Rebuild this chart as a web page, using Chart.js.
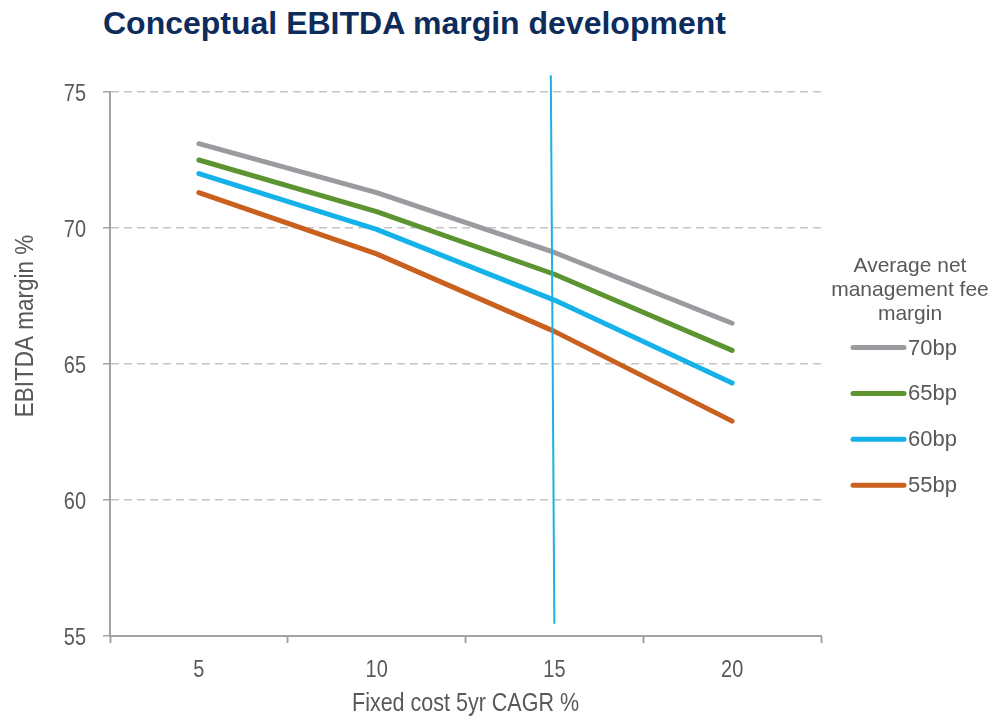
<!DOCTYPE html>
<html>
<head>
<meta charset="utf-8">
<script src="https://cdn.jsdelivr.net/npm/chart.js@4/dist/chart.umd.min.js"></script>
<style>
  html, body { margin: 0; padding: 0; background: #ffffff; }
  #wrap { position: relative; width: 992px; height: 721px; }
  #title {
    position: absolute; left: 103px; top: 5px;
    font: bold 32px "Liberation Sans", Arial, sans-serif;
    color: #0d2c5c; white-space: nowrap;
  }
  canvas { position: absolute; left: 0; top: 0; }
</style>
</head>
<body>
<div id="wrap">
  <div id="title">Conceptual EBITDA margin development</div>
  <canvas id="chart" width="992" height="721"></canvas>
</div>
<script>
// Fixed cost growth scenarios (x) and EBITDA margin per fee level (y, %)
const categories = ['5', '10', '15', '20'];
const seriesNames = ['70bp', '65bp', '60bp', '55bp'];
const fee70 = [73.1, 71.3, 69.1, 66.5];
const fee65 = [72.5, 70.6, 68.3, 65.5];
const fee60 = [72.0, 69.95, 67.35, 64.3];
const fee55 = [71.3, 69.05, 66.2, 62.9];
const yTicks = [55, 60, 65, 70, 75];

// Reference marker drawn at the 15% CAGR position
const markerX = [14.9, 15.0];
const markerY = [75.62, 55.45];

const legendTitle = ['Average net', 'management fee', 'margin'];
const xTitle = 'Fixed cost 5yr CAGR %';
const yTitle = 'EBITDA margin %';

const colors = ['#9b9b9f', '#5b9431', '#14b2e8', '#c9601e'];
const textGrey = '#595959';
const regular = "'Liberation Sans', Arial, sans-serif";
const condense = 0.83;   // horizontal squeeze for the axis lettering

const seriesValues = [fee70, fee65, fee60, fee55];

const lineDatasets = seriesValues.map((vals, i) => ({
  label: seriesNames[i],
  data: vals,
  borderColor: colors[i],
  backgroundColor: colors[i],
  borderWidth: 5,
  borderCapStyle: 'round',
  borderJoinStyle: 'round',
  pointRadius: 0,
  tension: 0,
  xAxisID: 'x',
  order: 1
}));

const markerDataset = {
  label: 'marker',
  data: markerX.map((x, i) => ({ x: x, y: markerY[i] })),
  borderColor: '#1bb1e3',
  borderWidth: 2,
  pointRadius: 0,
  xAxisID: 'xv',
  clip: false,
  order: 0
};

// Draws text squeezed horizontally around its anchor point
function narrowText(ctx, text, x, y, sx, align) {
  ctx.save();
  ctx.translate(x, y);
  ctx.scale(sx, 1);
  ctx.textAlign = align;
  ctx.fillText(text, 0, 0);
  ctx.restore();
}

// Tick labels, axis titles and the right-hand legend
const annotations = {
  id: 'annotations',
  afterDraw(chart) {
    const ctx = chart.ctx;
    const area = chart.chartArea;
    const xs = chart.scales.x;
    const ys = chart.scales.y;
    ctx.save();
    ctx.fillStyle = textGrey;
    ctx.textBaseline = 'alphabetic';

    // tick labels from the scales' own ticks
    ctx.font = '24px ' + regular;
    ys.ticks.forEach((t, i) => {
      narrowText(ctx, String(t.value), 86, ys.getPixelForTick(i) + 9, condense, 'right');
    });
    xs.ticks.forEach((t, i) => {
      narrowText(ctx, xs.getLabelForValue(t.value), xs.getPixelForTick(i), 677, condense, 'center');
    });

    // x axis title
    ctx.font = '25px ' + regular;
    narrowText(ctx, xTitle, (area.left + area.right) / 2, 711, 0.86, 'center');

    // y axis title
    ctx.save();
    ctx.translate(33, 326);
    ctx.rotate(-Math.PI / 2);
    ctx.scale(0.9, 1);
    ctx.font = '25px ' + regular;
    ctx.textAlign = 'center';
    ctx.fillText(yTitle, 0, 0);
    ctx.restore();

    // legend title
    ctx.font = '21px ' + regular;
    ctx.textAlign = 'center';
    const titleBase = [272, 296, 320];
    legendTitle.forEach((t, i) => ctx.fillText(t, 910, titleBase[i]));

    // legend entries
    ctx.textAlign = 'left';
    ctx.textBaseline = 'middle';
    ctx.font = '22px ' + regular;
    let row = 0;
    chart.data.datasets.forEach(ds => {
      if (ds.xAxisID !== 'x') return;
      const y = 347.5 + row * 45.9;
      ctx.strokeStyle = ds.borderColor;
      ctx.lineWidth = 5;
      ctx.lineCap = 'round';
      ctx.beginPath();
      ctx.moveTo(853, y);
      ctx.lineTo(904, y);
      ctx.stroke();
      ctx.fillStyle = textGrey;
      ctx.fillText(ds.label, 908, y + 1);
      row++;
    });
    ctx.restore();
  }
};

new Chart(document.getElementById('chart'), {
  type: 'line',
  data: {
    labels: categories,
    datasets: [markerDataset, ...lineDatasets]
  },
  options: {
    responsive: false,
    animation: false,
    layout: { padding: { top: 92, right: 171, bottom: 0, left: 0 } },
    plugins: {
      legend: { display: false },
      title: { display: false },
      tooltip: { enabled: false }
    },
    scales: {
      x: {
        type: 'category',
        offset: true,
        grid: {
          offset: true,
          drawOnChartArea: false,
          drawTicks: true,
          tickLength: 7,
          tickWidth: 2,
          tickColor: '#a3a3a3'
        },
        border: { display: true, color: '#a3a3a3', width: 2 },
        ticks: { display: false },
        afterFit(scale) { scale.height = 85; }
      },
      xv: {
        type: 'linear',
        display: false,
        min: 2.5,
        max: 22.5
      },
      y: {
        min: 55,
        max: 75,
        afterBuildTicks(scale) {
          scale.ticks = yTicks.map(v => ({ value: v }));
        },
        grid: {
          color: '#c4c4c4',
          lineWidth: 1.5,
          tickLength: 7,
          tickColor: '#a3a3a3',
          tickWidth: 1.5
        },
        border: { display: true, color: '#a3a3a3', width: 2, dash: [8, 5] },
        ticks: { display: false },
        afterFit(scale) { scale.width = 110; }
      }
    }
  },
  plugins: [annotations]
});
</script>
</body>
</html>
